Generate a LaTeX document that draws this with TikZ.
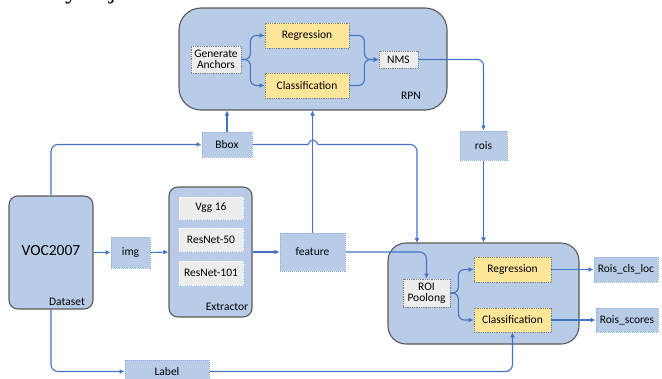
\documentclass[tikz,border=0pt]{standalone}
\usepackage{fontspec}
\setmainfont{Carlito}
\newfontfamily\capserif{Liberation Serif}
\usetikzlibrary{arrows.meta}
\definecolor{lblue}{HTML}{B8CCE8}
\definecolor{lineblue}{HTML}{4472C4}
\definecolor{ylw}{HTML}{FFE699}
\definecolor{dotblue}{HTML}{8FAADC}
\definecolor{frame}{HTML}{595959}
\definecolor{gfill}{HTML}{EDEDED}
\tikzset{
  bigbox/.style={draw=frame, fill=lblue, line width=1.1pt, inner sep=0pt},
  tagbox/.style={draw=dotblue, fill=lblue, densely dotted, line width=1pt, inner sep=0pt, font=\fontsize{11.5}{13}\selectfont},
  ybox/.style={draw=gray, fill=ylw, densely dotted, line width=0.8pt, inner sep=0pt, font=\fontsize{11.5}{13}\selectfont},
  gbox/.style={draw=gray, fill=gfill, densely dotted, line width=0.8pt, inner sep=0pt, font=\fontsize{11.5}{13}\selectfont, align=center},
  nbox/.style={draw=white, fill=gfill, densely dotted, line width=0.8pt, inner sep=0pt, font=\fontsize{11.5}{13}\selectfont},
  lbl/.style={inner sep=0pt, font=\fontsize{11.5}{13}\selectfont},
  conn/.style={draw=lineblue, line width=1.1pt, -{Latex[length=5pt,width=5pt]}},
  plain/.style={draw=lineblue, line width=1.1pt}
}
\begin{document}
\begin{tikzpicture}[x=1pt,y=-1pt]
\useasboundingbox (0,0) rectangle (662,378);
\begin{scope}
\clip (0,0) rectangle (662,378);
\node[anchor=base west, inner sep=0pt, font=\capserif\fontsize{26}{28}\selectfont] (cap) at (10,-2) {finally adjusted.};
% big boxes
\node[bigbox, rounded corners=22pt, minimum width=268pt, minimum height=102pt] (rpn) at (313,59) {};
\node[bigbox, rounded corners=9pt, minimum width=84pt, minimum height=113pt] (dataset) at (51,252.5) {};
\node[bigbox, rounded corners=9pt, minimum width=83pt, minimum height=130pt] (extr) at (210.5,252) {};
\node[bigbox, rounded corners=18pt, minimum width=191pt, minimum height=101pt] (head) at (483.5,293.5) {};
% labels in big boxes
\node[lbl] (rpnlbl) at (411,96) {RPN};
\node[lbl] (dslbl) at (67,302) {Dataset};
\node[lbl] (exlbl) at (227,307) {Extractor};
\node[inner sep=0pt, font=\fontsize{15.5}{17}\selectfont] (voc) at (51,251) {VOC2007};
% RPN inner
\node[gbox, minimum width=50pt, minimum height=27pt] (ga) at (216,59.5) {Generate\\[-2pt]Anchors};
\node[ybox, minimum width=84pt, minimum height=25pt] (reg1) at (307,35.5) {Regression};
\node[ybox, minimum width=84pt, minimum height=25pt] (cls1) at (307,85.5) {Classification};
\node[gbox, minimum width=39pt, minimum height=17pt] (nms) at (398.5,59.5) {NMS};
% tags
\node[tagbox, minimum width=47pt, minimum height=29pt] (rois) at (483.5,145.5) {rois};
\node[tagbox, minimum width=50pt, minimum height=25pt] (bbox) at (227,144.5) {Bbox};
\node[tagbox, minimum width=39pt, minimum height=31pt] (img) at (130.5,252.5) {img};
\node[tagbox, minimum width=65pt, minimum height=38pt] (feature) at (312.5,252) {feature};
\node[tagbox, minimum width=64pt, minimum height=25pt] (rcl) at (626,269.5) {Rois\_cls\_loc};
\node[tagbox, minimum width=62pt, minimum height=24pt] (rsc) at (627,320) {Rois\_scores};
\node[tagbox, minimum width=84pt, minimum height=23pt] (label) at (167,371.5) {Label};
% extractor inner
\node[nbox, minimum width=64pt, minimum height=22pt] (vgg) at (211,208) {Vgg 16};
\node[nbox, minimum width=64pt, minimum height=23pt] (r50) at (211,239.5) {ResNet-50};
\node[nbox, minimum width=64pt, minimum height=24pt] (r101) at (211,273) {ResNet-101};
% head inner
\node[gbox, minimum width=47pt, minimum height=28pt] (roi) at (426.5,293) {ROI\\[-2pt]Poolong};
\node[ybox, minimum width=77pt, minimum height=25pt] (reg2) at (512.5,269.5) {Regression};
\node[ybox, minimum width=77pt, minimum height=24pt] (cls2) at (512.5,320) {Classification};
% connectors inside RPN
\draw[conn, rounded corners=6pt] (ga.east) -- ++(9,0) |- (reg1.west);
\draw[conn, rounded corners=6pt] (ga.east) -- ++(9,0) |- (cls1.west);
\draw[conn, rounded corners=6pt] (reg1.east) -- ++(15,0) |- (nms.west);
\draw[conn, rounded corners=6pt] (cls1.east) -- ++(15,0) |- (nms.west);
\draw[conn, rounded corners=6pt] (nms.east) -| (rois.north);
% connectors to RPN
\draw[conn] (bbox.north) -- (bbox.north |- rpn.south);
\draw[conn] (feature.north) -- (feature.north |- rpn.south);
\draw[conn, rounded corners=7pt] (dataset.north) |- (bbox.west);
% bbox to head with jump over feature line
\coordinate (j1) at (308,144.5);
\coordinate (j2) at (318,144.5);
\coordinate (j3) at (417,144.5);
\coordinate (j4) at (417,243);
\draw[plain] (bbox.east) -- (j1) .. controls (311,138.5) and (315,138.5) .. (j2);
\draw[conn, rounded corners=7pt] (j2) -- (j3) -- (j4);
\draw[conn] (rois.south) -- (head.north);
% main chain
\draw[conn] (dataset.east) -- (img.west);
\draw[conn] (img.east) -- (extr.west);
\draw[conn] (extr.east) -- (feature.west);
\draw[conn, rounded corners=7pt] (feature.east) -| (roi.north);
% head inner
\draw[conn, rounded corners=6pt] (roi.east) -- ++(8,0) |- (reg2.west);
\draw[conn, rounded corners=6pt] (roi.east) -- ++(8,0) |- (cls2.west);
\draw[conn] (reg2.east) -- (rcl.west);
\draw[conn] (cls2.east) -- (rsc.west);
% label
\draw[conn, rounded corners=7pt] (dataset.south) |- (label.west);
\draw[conn, rounded corners=7pt] (label.east) -| (cls2.south);
\end{scope}
\end{tikzpicture}
\end{document}
